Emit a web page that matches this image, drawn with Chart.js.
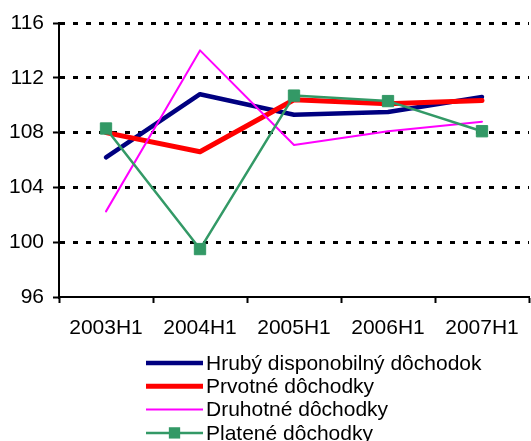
<!DOCTYPE html>
<html>
<head>
<meta charset="utf-8">
<script src="https://cdn.jsdelivr.net/npm/chart.js@4/dist/chart.umd.min.js"></script>
<style>
  html, body { margin: 0; padding: 0; background: #fff; }
  #wrap { width: 531px; height: 441px; }
</style>
</head>
<body>
<div id="wrap"><canvas id="c" width="531" height="441"></canvas></div>
<script>
// Half-year periods on the x axis
const categories = ['2003H1', '2004H1', '2005H1', '2006H1', '2007H1'];

// Index values per series
const hrubyDisponobilny = [106.2, 110.8, 109.3, 109.5, 110.6];
const prvotneDochodky   = [108.0, 106.6, 110.4, 110.1, 110.35];
const druhotneDochodky  = [102.25, 114.0, 107.1, 108.1, 108.8];
const plateneDochodky   = [108.3, 99.5, 110.7, 110.3, 108.1];

// Y axis range and step
const yMin = 96, yMax = 116, yStep = 4;

const seriesNames = [
  'Hrubý disponobilný dôchodok',
  'Prvotné dôchodky',
  'Druhotné dôchodky',
  'Platené dôchodky'
];

const FONT = 'Liberation Sans, Arial, sans-serif';
const FONT_SIZE = 21;

// Vertical legend drawn under the x axis labels
const stackedLegend = {
  id: 'stackedLegend',
  afterDraw(chart, args, opts) {
    const ctx = chart.ctx;
    ctx.save();
    chart.data.datasets.forEach((ds, i) => {
      const y = opts.top + i * opts.rowHeight;
      ctx.strokeStyle = ds.borderColor;
      ctx.lineWidth = ds.borderWidth;
      ctx.setLineDash([]);
      ctx.lineCap = 'butt';
      ctx.beginPath();
      ctx.moveTo(opts.lineStart, y);
      ctx.lineTo(opts.lineEnd, y);
      ctx.stroke();
      if (ds.pointRadius > 0) {
        const s = ds.pointRadius * Math.SQRT1_2;
        const cx = (opts.lineStart + opts.lineEnd) / 2;
        ctx.fillStyle = ds.pointBackgroundColor;
        ctx.fillRect(cx - s, y - s, 2 * s, 2 * s);
      }
      ctx.fillStyle = '#000';
      ctx.font = FONT_SIZE + 'px ' + FONT;
      ctx.textBaseline = 'middle';
      ctx.textAlign = 'left';
      ctx.fillText(ds.label, opts.textStart, y + 1);
    });
    ctx.restore();
  }
};

new Chart(document.getElementById('c'), {
  type: 'line',
  data: {
    labels: categories,
    datasets: [
      { label: seriesNames[0], data: hrubyDisponobilny, borderColor: '#000080', borderWidth: 4.5, pointRadius: 0, order: 4 },
      { label: seriesNames[1], data: prvotneDochodky, borderColor: '#ff0000', borderWidth: 5, pointRadius: 0, order: 3 },
      { label: seriesNames[2], data: druhotneDochodky, borderColor: '#ff00ff', borderWidth: 2, pointRadius: 0, order: 2 },
      { label: seriesNames[3], data: plateneDochodky, borderColor: '#339966', borderWidth: 2.5,
        pointStyle: 'rect', pointRadius: 8, pointBackgroundColor: '#339966', pointBorderColor: '#339966', pointBorderWidth: 1, order: 1 }
    ]
  },
  options: {
    responsive: false,
    animation: false,
    events: [],
    layout: { autoPadding: false, padding: { top: 23, right: 2, left: 0, bottom: 0 } },
    plugins: {
      legend: { display: false },
      tooltip: { enabled: false },
      stackedLegend: { top: 363, rowHeight: 23.3, lineStart: 146, lineEnd: 203, textStart: 206 }
    },
    elements: { line: { tension: 0, borderCapStyle: 'round', borderJoinStyle: 'round' } },
    scales: {
      x: {
        offset: true,
        grid: { display: true, drawOnChartArea: false, drawTicks: true, tickLength: 6, color: '#000', tickColor: '#000', tickWidth: 2, offset: true },
        border: { display: true, color: '#000', width: 2 },
        ticks: { color: '#000', font: { family: FONT, size: FONT_SIZE }, padding: 13, maxRotation: 0, autoSkip: false },
        afterFit(scale) {
          scale.height = 144;
          scale.paddingLeft = 0;
          scale.paddingRight = 0;
        }
      },
      y: {
        min: yMin, max: yMax,
        grid: {
          drawOnChartArea: true, drawTicks: true, tickLength: 6,
          color: (c) => (c.tick && c.tick.value === yMin) ? 'rgba(0,0,0,0)' : '#000',
          lineWidth: 3, tickColor: '#000', tickWidth: 2, tickBorderDash: []
        },
        border: { display: true, color: '#000', width: 2, dash: [5, 8] },
        ticks: { stepSize: yStep, color: '#000', font: { family: FONT, size: FONT_SIZE }, padding: 9 },
        afterFit(scale) { scale.width = 59; }
      }
    }
  },
  plugins: [stackedLegend]
});
</script>
</body>
</html>
